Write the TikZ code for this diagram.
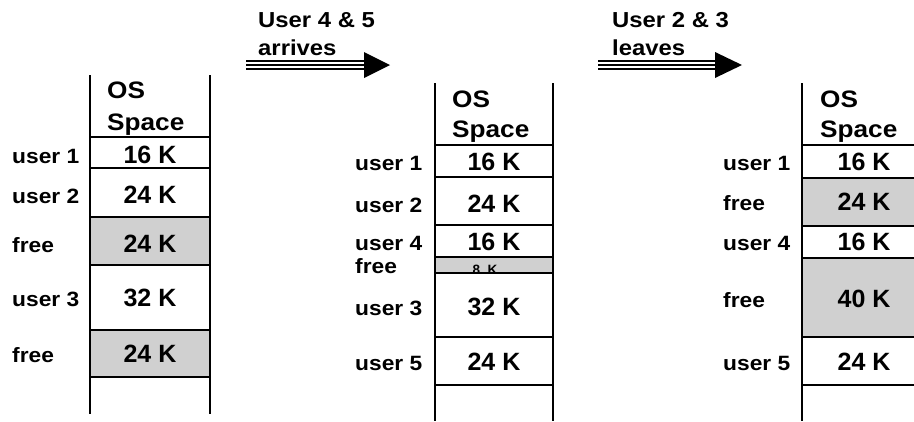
\documentclass[tikz,border=0pt]{standalone}
\usepackage{fontspec}
\setmainfont{Liberation Sans}[FakeStretch=1.1]
\newfontfamily\sizefont{Liberation Sans}
\definecolor{freegray}{RGB}{208,208,208}
\tikzset{
  rule/.style={line width=1.8pt, black},
  freecell/.style={fill=freegray},
  lab/.style={anchor=base west, inner sep=0pt, font=\bfseries\fontsize{20.7}{25}\selectfont},
  val/.style={anchor=base, inner sep=0pt, font=\sizefont\bfseries\fontsize{25}{30}\selectfont},
  ostext/.style={anchor=base west, inner sep=0pt, font=\bfseries\fontsize{23.8}{29}\selectfont},
  captxt/.style={anchor=base west, inner sep=0pt, font=\bfseries\fontsize{21.7}{26}\selectfont},
}
\begin{document}
\begin{tikzpicture}[x=1pt, y=-1pt]
\useasboundingbox (0,0) rectangle (914,421);

% ---------- memory map 1 ----------
\fill[freecell] (90,217) rectangle (210,265);
\fill[freecell] (90,330) rectangle (210,377);
\foreach \y in {137,168,217,265,330,377} \draw[rule] (90,\y) -- (210,\y);
\draw[rule] (90,75) -- (90,414);
\draw[rule] (210,75) -- (210,414);
\node[ostext] (osA) at (107,98) {OS};
\node[ostext] (spA) at (107,130) {Space};
\node[lab] (a1) at (12,163) {user 1};
\node[lab] (a2) at (12,203) {user 2};
\node[lab] (a3) at (12,252) {free};
\node[lab] (a4) at (12,306) {user 3};
\node[lab] (a5) at (12,362) {free};
\node[val] (va1) at (150,163) {16 K};
\node[val] (va2) at (150,203) {24 K};
\node[val] (va3) at (150,252) {24 K};
\node[val] (va4) at (150,306) {32 K};
\node[val] (va5) at (150,362) {24 K};

% ---------- memory map 2 ----------
\fill[freecell] (435,257) rectangle (553,273);
\begin{scope}
  \clip (435,257) rectangle (553,273);
  \node[anchor=base, inner sep=0pt, font=\sizefont\bfseries\fontsize{13.5}{15}\selectfont] (vb8) at (485,274.5) {8~~K};
\end{scope}
\foreach \y in {145,177,225,257,273,337,385} \draw[rule] (435,\y) -- (553,\y);
\draw[rule] (435,83) -- (435,421);
\draw[rule] (553,83) -- (553,421);
\node[ostext] (osB) at (452,107) {OS};
\node[ostext] (spB) at (452,137) {Space};
\node[lab] (b1) at (355,170) {user 1};
\node[lab] (b2) at (355,212) {user 2};
\node[lab] (b3) at (355,250) {user 4};
\node[lab] (b4) at (355,273) {free};
\node[lab] (b5) at (355,315) {user 3};
\node[lab] (b6) at (355,370) {user 5};
\node[val] (vb1) at (494,170) {16 K};
\node[val] (vb2) at (494,212) {24 K};
\node[val] (vb3) at (494,250) {16 K};
\node[val] (vb5) at (494,315) {32 K};
\node[val] (vb6) at (494,370) {24 K};

% ---------- memory map 3 ----------
\fill[freecell] (802,178) rectangle (914,226);
\fill[freecell] (802,258) rectangle (914,337);
\foreach \y in {145,178,226,258,337,385} \draw[rule] (802,\y) -- (914,\y);
\draw[rule] (802,83) -- (802,421);
\node[ostext] (osC) at (820,107) {OS};
\node[ostext] (spC) at (820,137) {Space};
\node[lab] (c1) at (723,170) {user 1};
\node[lab] (c2) at (723,210) {free};
\node[lab] (c3) at (723,250) {user 4};
\node[lab] (c4) at (723,307) {free};
\node[lab] (c5) at (723,370) {user 5};
\node[val] (vc1) at (864,170) {16 K};
\node[val] (vc2) at (864,210) {24 K};
\node[val] (vc3) at (864,250) {16 K};
\node[val] (vc4) at (864,307) {40 K};
\node[val] (vc5) at (864,370) {24 K};

% ---------- transition arrows ----------
\node[captxt] (t1a) at (258,27) {User 4 \& 5};
\node[captxt] (t1b) at (258,55) {arrives};
\node[captxt] (t2a) at (612,27) {User 2 \& 3};
\node[captxt] (t2b) at (612,55) {leaves};

\coordinate (p1s) at (246,65);
\coordinate (p1b) at (364,65);
\coordinate (p1t) at (390,65);
\coordinate (p2s) at (598,65);
\coordinate (p2b) at (715,65);
\coordinate (p2t) at (742,65);
\foreach \s/\b in {p1s/p1b, p2s/p2b} {
  \draw[line width=10pt, black] (\s) -- (\b);
  \draw[line width=6pt, white] (\s) -- (\b);
  \draw[line width=2pt, black] (\s) -- (\b);
}
\fill[black] ([yshift=-13pt]p1b) -- (p1t) -- ([yshift=13pt]p1b) -- cycle;
\fill[black] ([yshift=-13pt]p2b) -- (p2t) -- ([yshift=13pt]p2b) -- cycle;
\end{tikzpicture}
\end{document}
